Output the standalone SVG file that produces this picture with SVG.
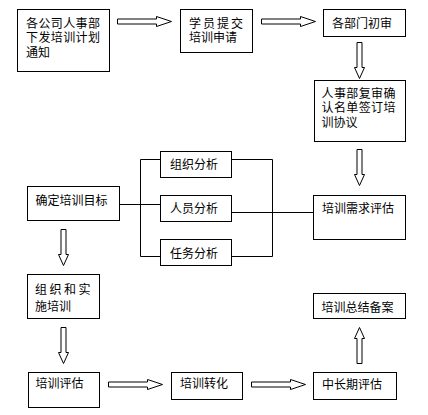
<svg xmlns="http://www.w3.org/2000/svg" xmlns:xlink="http://www.w3.org/1999/xlink" width="428" height="415" viewBox="0 0 428 415">
<style>
.box{fill:#fff;stroke:#000;stroke-width:1}
.t{font-family:"Liberation Sans","Noto Sans CJK SC",sans-serif;font-size:12px;fill:#000}
.ln{fill:none;stroke:#000;stroke-width:1}
.ar{fill:#fff;stroke:#000;stroke-width:1}
</style>
<defs>
<path id="ra" d="M0,-2.5 H39 V-5 L54,0 L39,5 V2.5 H0 Z"/>
<path id="da" d="M-2.5,0 V25 H-5 L0,36 L5,25 H2.5 V0 Z"/>
</defs>
<rect width="428" height="415" fill="#fff"/>
<g id="connectors">
<path class="ln" d="M119.5,204.5 H140.5 M140.5,159.5 V256.5 M140.5,159.5 H160.5 M140.5,204.5 H160.5 M140.5,256.5 H160.5"/>
<path class="ln" d="M231.5,159.5 H272.5 M231.5,212.5 H313.5 M231.5,256.5 H272.5 M272.5,159.5 V256.5"/>
<use xlink:href="#ra" class="ar" transform="translate(117.5,21.5)"/>
<use xlink:href="#ra" class="ar" transform="translate(261.5,21.5)"/>
<use xlink:href="#ra" class="ar" transform="translate(108.5,384.5)"/>
<use xlink:href="#ra" class="ar" transform="translate(251.5,384.5)"/>
<use xlink:href="#da" class="ar" transform="translate(359.5,42.5)"/>
<use xlink:href="#da" class="ar" transform="translate(359.5,149.5)"/>
<use xlink:href="#da" class="ar" transform="translate(63.5,229.5)"/>
<use xlink:href="#da" class="ar" transform="translate(63.5,327.5)"/>
<use xlink:href="#da" class="ar" transform="translate(359.5,363.5) rotate(180)"/>
</g>
<g id="n1"><rect class="box" x="17.5" y="9.5" width="92" height="62"/>
<text class="t"><tspan x="26" y="27.5" letter-spacing="0.4">各公司人事部</tspan><tspan x="26" y="42" letter-spacing="0.4">下发培训计划</tspan><tspan x="26" y="56.5">通知</tspan></text></g>
<g id="n2"><rect class="box" x="180.5" y="9.5" width="72" height="43"/>
<text class="t"><tspan x="189" y="27.5" letter-spacing="2">学员提交</tspan><tspan x="189" y="42">培训申请</tspan></text></g>
<g id="n3"><rect class="box" x="323.5" y="9.5" width="82" height="27"/>
<text class="t" x="332" y="27.5">各部门初审</text></g>
<g id="n4"><rect class="box" x="314.5" y="80.5" width="91" height="61"/>
<text class="t"><tspan x="321.5" y="97.5" letter-spacing="0.4">人事部复审确</tspan><tspan x="321.5" y="112" letter-spacing="0.4">认名单签订培</tspan><tspan x="321.5" y="126.5">训协议</tspan></text></g>
<g id="n5"><rect class="box" x="313.5" y="195.5" width="92" height="44"/>
<text class="t" x="322" y="213">培训需求评估</text></g>
<g id="n6"><rect class="box" x="27.5" y="186.5" width="92" height="34"/>
<text class="t" x="35.5" y="204.5">确定培训目标</text></g>
<g id="n7"><rect class="box" x="160.5" y="151.5" width="71" height="26"/>
<text class="t" x="170" y="168.5">组织分析</text></g>
<g id="n8"><rect class="box" x="160.5" y="195.5" width="71" height="26"/>
<text class="t" x="170" y="212.5">人员分析</text></g>
<g id="n9"><rect class="box" x="160.5" y="239.5" width="71" height="26"/>
<text class="t" x="170" y="257.5">任务分析</text></g>
<g id="n10"><rect class="box" x="27.5" y="274.5" width="72" height="44"/>
<text class="t"><tspan x="35" y="293.5" letter-spacing="2.5">组织和实</tspan><tspan x="35" y="311">施培训</tspan></text></g>
<g id="n11"><rect class="box" x="28.5" y="372.5" width="71" height="35"/>
<text class="t" x="35.5" y="388">培训评估</text></g>
<g id="n12"><rect class="box" x="171.5" y="372.5" width="71" height="27"/>
<text class="t" x="180" y="388">培训转化</text></g>
<g id="n13"><rect class="box" x="313.5" y="372.5" width="83" height="27"/>
<text class="t" x="322" y="389">中长期评估</text></g>
<g id="n14"><rect class="box" x="313.5" y="293.5" width="92" height="25"/>
<text class="t" x="321.5" y="312">培训总结备案</text></g>
</svg>
